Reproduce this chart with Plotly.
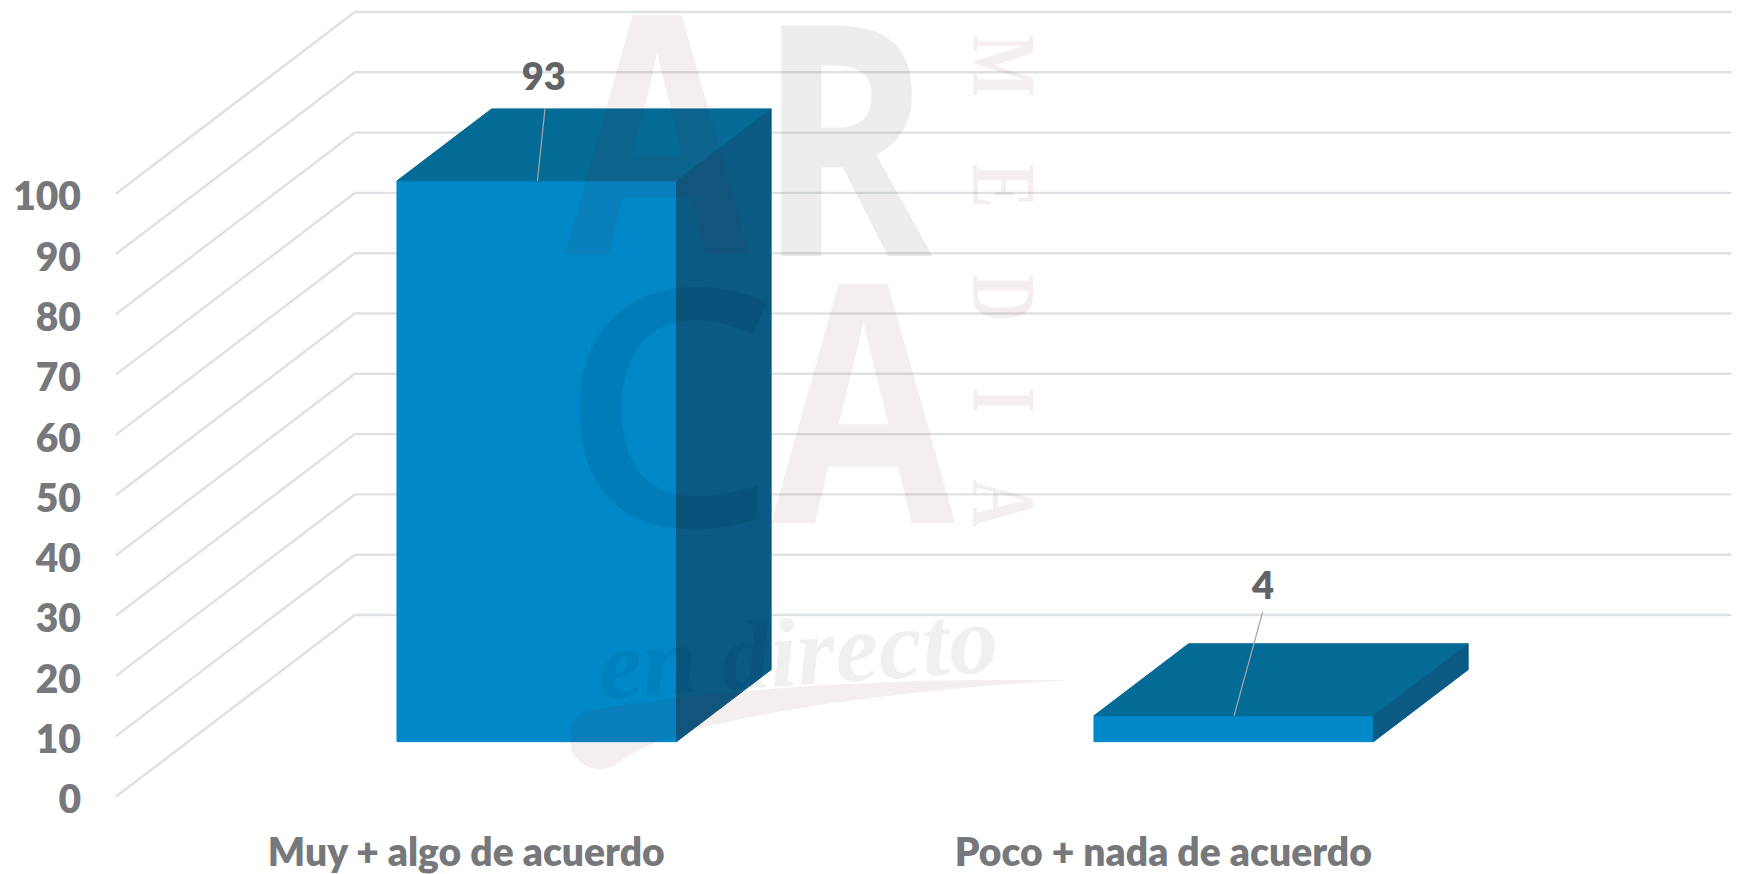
import json
import plotly.graph_objects as go

# ---- data ----
categories = ["Muy + algo de acuerdo", "Poco + nada de acuerdo"]
values = [93, 4.3]
tick_values = [0, 10, 20, 30, 40, 50, 60, 70, 80, 90, 100]

# ---- oblique projection of the 3D chart, in axis units ----
KX = 0.3429      # x shift of the back wall
KY = 30.13       # y shift of the back wall
BAR_D0 = 0.303   # depth of bar front
BAR_D1 = 0.699   # depth of bar back
BAR_W = 0.401    # bar width
X_START, X_END = -0.5, 1.475

W, H = 1743, 874
L, B = 82, 48
X0_PX, PX_PER_X = 464.3, 697.0
Y0_PX, PX_PER_Y = 796.7, 6.03


def ax(px):
    return (px - X0_PX) / PX_PER_X


def ay(py):
    return (Y0_PX - py) / PX_PER_Y


def proj(x, v, d):
    return x + d * KX, v + d * KY


GRID = "#dfe2e4"
FRONT, TOP, SIDE = "#0088c8", "#046a96", "#0a5a84"
TEXT = "#77787b"
LABEL = "#626366"
FONT = "Lato"

fig = go.Figure()

# walls / gridlines
gx, gy = [], []
for t in tick_values:
    for x, d in ((X_START, 0), (X_START, 1), (X_END, 1)):
        px_, py_ = proj(x, t, d)
        gx.append(px_)
        gy.append(py_)
    gx.append(None)
    gy.append(None)
fig.add_trace(go.Scatter(x=gx, y=gy, mode="lines", line=dict(color=GRID, width=2.4),
                         hoverinfo="skip", showlegend=False))


def face(points, color):
    xs = [p[0] for p in points]
    ys = [p[1] for p in points]
    fig.add_trace(go.Scatter(x=xs + xs[:1], y=ys + ys[:1], mode="lines", fill="toself",
                             fillcolor=color, line=dict(color=color, width=1),
                             hoverinfo="skip", showlegend=False))


label_dx = [0.010, 0.042]
label_dy = [16.6, 20.9]
leader_dx = [0.011, 0.041]
leader_dy = [12.1, 17.2]
leader_start = [0.001, 0.0005]

for i, v in enumerate(values):
    xl, xr = i - BAR_W / 2, i + BAR_W / 2
    face([proj(xl, 0, BAR_D0), proj(xr, 0, BAR_D0), proj(xr, v, BAR_D0), proj(xl, v, BAR_D0)], FRONT)
    face([proj(xl, v, BAR_D0), proj(xr, v, BAR_D0), proj(xr, v, BAR_D1), proj(xl, v, BAR_D1)], TOP)
    face([proj(xr, 0, BAR_D0), proj(xr, 0, BAR_D1), proj(xr, v, BAR_D1), proj(xr, v, BAR_D0)], SIDE)
    sx, sy = proj(i + leader_start[i], v, BAR_D0)
    fig.add_trace(go.Scatter(x=[sx, sx + leader_dx[i]], y=[sy, sy + leader_dy[i]], mode="lines",
                             line=dict(color="#a6a6a6", width=1.2), hoverinfo="skip", showlegend=False))
    tx, ty = proj(i + label_dx[i], v + label_dy[i], BAR_D0)
    fig.add_trace(go.Scatter(x=[tx], y=[ty], mode="text", text=[f"{v:.0f}"], textposition="middle center",
                             textfont=dict(family=FONT, size=38, color=LABEL, weight=800),
                             hoverinfo="skip", showlegend=False))

# ---- watermark ----
RED = "rgba(120,30,30,0.075)"
GRAY = "rgba(0,0,0,0.07)"
GRAY_C = "rgba(0,0,0,0.08)"
GRAY_S = "rgba(0,0,0,0.06)"
OS = "Open Sans"
SP = "\u00a0" * 4
# text, x px, y px, size, colour, family, angle, weight, style, horizontal squeeze
marks = [
    ("A", 659, 125, 333, RED, OS, 0, "bold", "normal", 0.80),
    ("R", 846, 131, 323, GRAY, OS, 0, "bold", "normal", 0.82),
    ("C", 668, 398, 330, GRAY_C, OS, 0, 600, "normal", 1.05),
    ("A", 865, 394, 333, RED, OS, 0, "bold", "normal", 0.80),
    (SP.join("MEDIA"), 1004, 281, 90, RED, "Liberation Serif", 90, "bold", "normal", 0.735),
    ("en directo", 798, 652, 98, GRAY_S, "Liberation Serif", -4, "bold", "italic", 1.0),
]
for txt, px_, py_, size, col, fam, ang, wt, sty, _ in marks:
    fig.add_annotation(x=ax(px_), y=ay(py_), xref="x", yref="y", text=txt, showarrow=False,
                       textangle=ang, xanchor="center", yanchor="middle",
                       font=dict(family=fam, size=size, color=col, weight=wt, style=sty))


def pt(p):
    return f"{ax(p[0])},{ay(p[1])}"


tip = (1070, 680)
segments = [
    [(900, 678), (740, 686), (592, 710)],
    [(575, 712), (570, 725), (570, 740)],
    [(570, 758), (585, 769), (600, 769)],
    [(612, 769), (618, 762), (628, 756)],
    [(680, 722), (860, 692), tip],
]
path = "M" + pt(tip) + " " + " ".join("C" + " ".join(pt(p) for p in s) for s in segments) + " Z"
fig.add_shape(type="path", path=path, xref="x", yref="y", layer="above",
              fillcolor=RED, line=dict(width=0))

fig.update_layout(
    width=W, height=H, autosize=False, showlegend=False,
    margin=dict(l=L, r=0, t=0, b=B), paper_bgcolor="white", plot_bgcolor="white",
    xaxis=dict(range=[ax(L), ax(W)], tickmode="array", tickvals=[0, 1], ticktext=categories,
               automargin=False, showgrid=False, zeroline=False, showline=False, ticks="", ticklabelshift=2,
               tickfont=dict(family=FONT, size=39, color=TEXT, weight=800)),
    yaxis=dict(range=[ay(H - B), ay(0)], tickmode="array", tickvals=tick_values,
               automargin=False, showgrid=False, zeroline=False, showline=False, ticks="", ticklabelshift=3,
               tickfont=dict(family=FONT, size=39, color=TEXT, weight=800)),
)

squeeze = json.dumps([m[-1] for m in marks])
post = f"""
document.body.style.margin='0';document.body.style.overflow='hidden';
var sq={squeeze};
document.querySelectorAll('.annotation-text').forEach(function(t,i){{
  t.style.transformBox='fill-box';t.style.transformOrigin='center';t.style.transform='scaleX('+sq[i]+')';
}});
"""
fig.write_html("out.html", post_script=post, config={"displayModeBar": False})
